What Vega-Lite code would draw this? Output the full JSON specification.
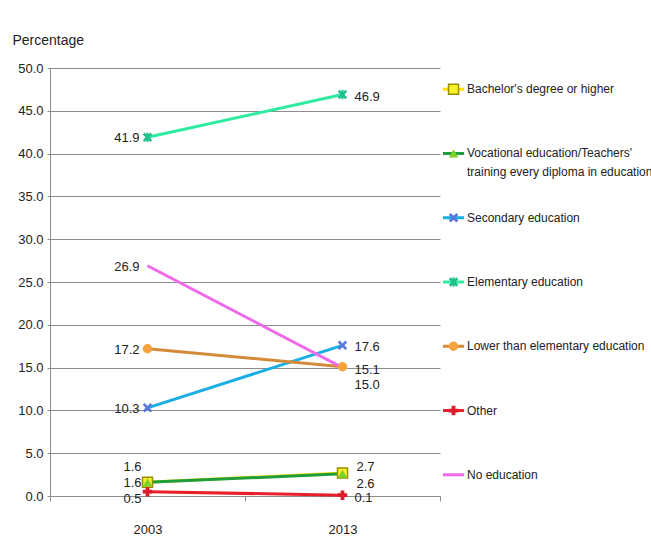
{
  "$schema": "https://vega.github.io/schema/vega-lite/v6.json",
  "padding": {"left": 12, "top": 33, "right": 0, "bottom": 0},
  "autosize": {"type": "pad"},
  "background": "white",
  "spacing": 0,
  "config": {"view": {"stroke": null}, "font": "Liberation Sans"},
  "datasets": {
    "main": [
      {"series": "Bachelor's degree or higher", "year": "2003", "value": 1.6},
      {"series": "Bachelor's degree or higher", "year": "2013", "value": 2.7},
      {"series": "Vocational education/Teachers' training every diploma in education", "year": "2003", "value": 1.6},
      {"series": "Vocational education/Teachers' training every diploma in education", "year": "2013", "value": 2.6},
      {"series": "Secondary education", "year": "2003", "value": 10.3},
      {"series": "Secondary education", "year": "2013", "value": 17.6},
      {"series": "Elementary education", "year": "2003", "value": 41.9},
      {"series": "Elementary education", "year": "2013", "value": 46.9},
      {"series": "Lower than elementary education", "year": "2003", "value": 17.2},
      {"series": "Lower than elementary education", "year": "2013", "value": 15.1},
      {"series": "Other", "year": "2003", "value": 0.5},
      {"series": "Other", "year": "2013", "value": 0.1},
      {"series": "No education", "year": "2003", "value": 26.9},
      {"series": "No education", "year": "2013", "value": 15.0}
    ],
    "legend": [
      {"series": "Bachelor's degree or higher", "label": "Bachelor's degree or higher"},
      {"series": "Vocational education/Teachers' training every diploma in education", "label": "Vocational education/Teachers'\ntraining every diploma in education"},
      {"series": "Secondary education", "label": "Secondary education"},
      {"series": "Elementary education", "label": "Elementary education"},
      {"series": "Lower than elementary education", "label": "Lower than elementary education"},
      {"series": "Other", "label": "Other"},
      {"series": "No education", "label": "No education"}
    ]
  },
  "resolve": {"scale": {"x": "independent", "y": "independent"}},
  "hconcat": [
    {
      "width": 390,
      "height": 428,
      "data": {"name": "main"},
      "encoding": {
        "x": {
          "field": "year", "type": "ordinal",
          "scale": {"type": "band", "paddingInner": 0, "paddingOuter": 0},
          "axis": {"title": null, "labelAngle": 0, "tickBand": "extent", "domainColor": "#8c8c8c", "tickColor": "#8c8c8c", "tickSize": 5, "labelPadding": 22, "labelFontSize": 13, "labelColor": "#222222", "grid": false}
        },
        "y": {
          "field": "value", "type": "quantitative",
          "scale": {"domain": [0, 50], "nice": false},
          "axis": {
            "values": [0, 5, 10, 15, 20, 25, 30, 35, 40, 45, 50],
            "format": ".1f",
            "title": "Percentage",
            "titleAngle": 0, "titleAlign": "left", "titleX": -38, "titleY": -24, "titleBaseline": "alphabetic",
            "titleFontWeight": "normal", "titleFontSize": 14, "titleColor": "#222222",
            "gridColor": "#8c8c8c", "domainColor": "#8c8c8c", "tickColor": "#8c8c8c", "tickSize": 3,
            "labelFontSize": 13, "labelColor": "#222222", "labelPadding": 4
          }
        }
      },
      "layer": [
        {
          "mark": {"type": "line", "strokeWidth": 3},
          "encoding": {
            "stroke": {
              "field": "series", "type": "nominal", "legend": null,
              "scale": {
                "domain": ["Bachelor's degree or higher", "Vocational education/Teachers' training every diploma in education", "Secondary education", "Elementary education", "Lower than elementary education", "Other", "No education"],
                "range": ["#FFE100", "#1E9E3C", "#1AAEE6", "#2FEBA0", "#D58A3A", "#E8202A", "#EE6AE8"]
              }
            }
          }
        },
        {
          "transform": [{"filter": {"field": "series", "equal": "Bachelor's degree or higher"}}],
          "mark": {"type": "point", "shape": "square", "size": 100, "filled": true, "fill": "#F7F02A", "stroke": "#9A8F00", "strokeWidth": 1.5, "opacity": 1}
        },
        {
          "transform": [{"filter": {"field": "series", "oneOf": ["Vocational education/Teachers' training every diploma in education", "Secondary education", "Elementary education", "Lower than elementary education", "Other"]}}],
          "mark": {"type": "point", "size": 90, "filled": true, "opacity": 1, "strokeWidth": 0},
          "encoding": {
            "fill": {
              "field": "series", "type": "nominal", "legend": null,
              "scale": {
                "domain": ["Vocational education/Teachers' training every diploma in education", "Secondary education", "Elementary education", "Lower than elementary education", "Other"],
                "range": ["#7CD32A", "#5878DC", "#20C08A", "#F5A33D", "#E01B2B"]
              }
            },
            "shape": {
              "field": "series", "type": "nominal", "legend": null,
              "scale": {
                "domain": ["Vocational education/Teachers' training every diploma in education", "Secondary education", "Elementary education", "Lower than elementary education", "Other"],
                "range": [
                  "triangle-up",
                  "M-1,-0.6L-0.6,-1L0,-0.4L0.6,-1L1,-0.6L0.4,0L1,0.6L0.6,1L0,0.4L-0.6,1L-1,0.6L-0.4,0Z",
                  "M-1,-0.6L-0.6,-1L0,-0.4L0.6,-1L1,-0.6L0.4,0L1,0.6L0.6,1L0,0.4L-0.6,1L-1,0.6L-0.4,0Z M-0.2,-1H0.2V1H-0.2Z",
                  "circle",
                  "cross"
                ]
              }
            }
          }
        },
        {
          "transform": [{"filter": {"and": [{"field": "year", "equal": "2003"}, {"field": "series", "oneOf": ["Secondary education", "Elementary education", "Lower than elementary education", "No education"]}]}}],
          "mark": {"type": "text", "align": "right", "baseline": "middle", "dx": -8, "dy": 1, "fontSize": 13, "color": "#222222"},
          "encoding": {"text": {"field": "value", "type": "quantitative", "format": ".1f"}}
        },
        {
          "transform": [{"filter": {"and": [{"field": "year", "equal": "2003"}, {"field": "series", "equal": "Bachelor's degree or higher"}]}}],
          "mark": {"type": "text", "align": "right", "baseline": "middle", "dx": -6, "dy": -15, "fontSize": 13, "color": "#222222"},
          "encoding": {"text": {"field": "value", "type": "quantitative", "format": ".1f"}}
        },
        {
          "transform": [{"filter": {"and": [{"field": "year", "equal": "2003"}, {"field": "series", "equal": "Vocational education/Teachers' training every diploma in education"}]}}],
          "mark": {"type": "text", "align": "right", "baseline": "middle", "dx": -6, "dy": 1, "fontSize": 13, "color": "#222222"},
          "encoding": {"text": {"field": "value", "type": "quantitative", "format": ".1f"}}
        },
        {
          "transform": [{"filter": {"and": [{"field": "year", "equal": "2003"}, {"field": "series", "equal": "Other"}]}}],
          "mark": {"type": "text", "align": "right", "baseline": "middle", "dx": -6, "dy": 7, "fontSize": 13, "color": "#222222"},
          "encoding": {"text": {"field": "value", "type": "quantitative", "format": ".1f"}}
        },
        {
          "transform": [{"filter": {"and": [{"field": "year", "equal": "2013"}, {"field": "series", "oneOf": ["Elementary education", "Secondary education"]}]}}],
          "mark": {"type": "text", "align": "left", "baseline": "middle", "dx": 12, "dy": 2, "fontSize": 13, "color": "#222222"},
          "encoding": {"text": {"field": "value", "type": "quantitative", "format": ".1f"}}
        },
        {
          "transform": [{"filter": {"and": [{"field": "year", "equal": "2013"}, {"field": "series", "oneOf": ["Lower than elementary education", "Other"]}]}}],
          "mark": {"type": "text", "align": "left", "baseline": "middle", "dx": 12, "dy": 3, "fontSize": 13, "color": "#222222"},
          "encoding": {"text": {"field": "value", "type": "quantitative", "format": ".1f"}}
        },
        {
          "transform": [{"filter": {"and": [{"field": "year", "equal": "2013"}, {"field": "series", "equal": "No education"}]}}],
          "mark": {"type": "text", "align": "left", "baseline": "middle", "dx": 12, "dy": 17, "fontSize": 13, "color": "#222222"},
          "encoding": {"text": {"field": "value", "type": "quantitative", "format": ".1f"}}
        },
        {
          "transform": [{"filter": {"and": [{"field": "year", "equal": "2013"}, {"field": "series", "equal": "Bachelor's degree or higher"}]}}],
          "mark": {"type": "text", "align": "left", "baseline": "middle", "dx": 14, "dy": -6, "fontSize": 13, "color": "#222222"},
          "encoding": {"text": {"field": "value", "type": "quantitative", "format": ".1f"}}
        },
        {
          "transform": [{"filter": {"and": [{"field": "year", "equal": "2013"}, {"field": "series", "equal": "Vocational education/Teachers' training every diploma in education"}]}}],
          "mark": {"type": "text", "align": "left", "baseline": "middle", "dx": 14, "dy": 10, "fontSize": 13, "color": "#222222"},
          "encoding": {"text": {"field": "value", "type": "quantitative", "format": ".1f"}}
        }
      ]
    },
    {
      "width": 211,
      "height": 428,
      "data": {"name": "legend"},
      "encoding": {
        "y": {
          "field": "series", "type": "nominal", "axis": null,
          "scale": {
            "type": "point", "padding": 0.33,
            "domain": ["Bachelor's degree or higher", "Vocational education/Teachers' training every diploma in education", "Secondary education", "Elementary education", "Lower than elementary education", "Other", "No education"]
          }
        }
      },
      "layer": [
        {
          "mark": {"type": "rule", "strokeWidth": 3},
          "encoding": {
            "x": {"datum": 0, "type": "quantitative", "scale": {"domain": [0, 211]}, "axis": null},
            "x2": {"datum": 22},
            "stroke": {
              "field": "series", "type": "nominal", "legend": null,
              "scale": {
                "domain": ["Bachelor's degree or higher", "Vocational education/Teachers' training every diploma in education", "Secondary education", "Elementary education", "Lower than elementary education", "Other", "No education"],
                "range": ["#FFE100", "#1E9E3C", "#1AAEE6", "#2FEBA0", "#D58A3A", "#E8202A", "#EE6AE8"]
              }
            }
          }
        },
        {
          "transform": [{"filter": {"field": "series", "equal": "Bachelor's degree or higher"}}],
          "mark": {"type": "point", "shape": "square", "size": 100, "filled": true, "fill": "#F7F02A", "stroke": "#9A8F00", "strokeWidth": 1.5, "opacity": 1},
          "encoding": {"x": {"datum": 11, "type": "quantitative"}}
        },
        {
          "transform": [{"filter": {"field": "series", "oneOf": ["Vocational education/Teachers' training every diploma in education", "Secondary education", "Elementary education", "Lower than elementary education", "Other"]}}],
          "mark": {"type": "point", "size": 90, "filled": true, "opacity": 1, "strokeWidth": 0},
          "encoding": {
            "x": {"datum": 11, "type": "quantitative"},
            "fill": {
              "field": "series", "type": "nominal", "legend": null,
              "scale": {
                "domain": ["Vocational education/Teachers' training every diploma in education", "Secondary education", "Elementary education", "Lower than elementary education", "Other"],
                "range": ["#7CD32A", "#5878DC", "#20C08A", "#F5A33D", "#E01B2B"]
              }
            },
            "shape": {
              "field": "series", "type": "nominal", "legend": null,
              "scale": {
                "domain": ["Vocational education/Teachers' training every diploma in education", "Secondary education", "Elementary education", "Lower than elementary education", "Other"],
                "range": [
                  "triangle-up",
                  "M-1,-0.6L-0.6,-1L0,-0.4L0.6,-1L1,-0.6L0.4,0L1,0.6L0.6,1L0,0.4L-0.6,1L-1,0.6L-0.4,0Z",
                  "M-1,-0.6L-0.6,-1L0,-0.4L0.6,-1L1,-0.6L0.4,0L1,0.6L0.6,1L0,0.4L-0.6,1L-1,0.6L-0.4,0Z M-0.2,-1H0.2V1H-0.2Z",
                  "circle",
                  "cross"
                ]
              }
            }
          }
        },
        {
          "mark": {"type": "text", "align": "left", "baseline": "alphabetic", "dy": 4, "lineBreak": "\n", "lineHeight": 19, "font": "Liberation Sans", "fontSize": 12, "color": "#222222"},
          "encoding": {
            "x": {"datum": 25, "type": "quantitative"},
            "text": {"field": "label", "type": "nominal"}
          }
        }
      ]
    }
  ]
}
